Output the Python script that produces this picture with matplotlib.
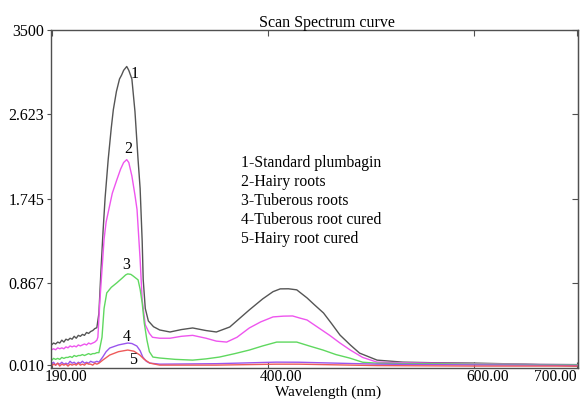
import numpy as np
import matplotlib
matplotlib.use("Agg")
import matplotlib.pyplot as plt
from matplotlib.transforms import ScaledTranslation

plt.rcParams["font.family"] = ["Liberation Serif", "DejaVu Serif"]

# noisy start of every scan, 190-236 nm in 2 nm steps
noise_x = list(range(190, 238, 2))

# 1 - standard plumbagin (dark grey)
wl1 = noise_x[:23] + [236, 238, 240, 242, 245, 248, 250, 253, 256, 258, 260, 263, 265,
                      268, 271, 274, 276, 278, 279, 281, 284, 289, 295, 305, 316, 327,
                      340, 350, 363, 382, 395, 405, 412, 420, 428, 438, 445, 454, 462,
                      470, 480, 489, 506, 531, 560, 600, 650, 700]
abs1 = [0.22, 0.24, 0.23, 0.25, 0.24, 0.27, 0.25, 0.28, 0.27, 0.29, 0.28, 0.31, 0.29,
        0.32, 0.31, 0.33, 0.32, 0.35, 0.34, 0.36, 0.37, 0.39, 0.40,
        0.55, 1.00, 1.40, 1.75, 2.15, 2.48, 2.67, 2.86, 2.99, 3.03, 3.08, 3.12, 3.08,
        2.99, 2.65, 2.15, 1.85, 1.30, 0.90, 0.60, 0.47, 0.41, 0.376, 0.355, 0.38, 0.397,
        0.37, 0.355, 0.407, 0.585, 0.70, 0.775, 0.804, 0.805, 0.794, 0.71, 0.64, 0.553,
        0.44, 0.323, 0.22, 0.135, 0.062, 0.041, 0.035, 0.031, 0.02, 0.0]

# 2 - hairy roots (magenta)
wl2 = noise_x[:23] + [235, 237, 241, 243, 245.6, 249, 253.4, 257, 260, 263, 265, 268,
                      271, 273, 276, 278, 281, 285, 288, 295, 305, 316, 327, 340, 350,
                      360, 370, 382, 393, 405, 415, 424, 431, 438, 449, 460, 470, 480,
                      492, 506, 531, 560, 600, 650, 700]
abs2 = [0.17, 0.18, 0.17, 0.19, 0.18, 0.19, 0.18, 0.20, 0.19, 0.21, 0.20, 0.21, 0.20,
        0.22, 0.21, 0.22, 0.23, 0.22, 0.24, 0.23, 0.24, 0.25, 0.27,
        0.30, 0.69, 1.32, 1.50, 1.63, 1.80, 1.94, 2.05, 2.12, 2.15, 2.12, 1.98, 1.78,
        1.63, 1.11, 0.69, 0.43, 0.34, 0.30, 0.29, 0.29, 0.31, 0.32, 0.29, 0.26, 0.25,
        0.30, 0.397, 0.46, 0.512, 0.52, 0.522, 0.50, 0.48, 0.40, 0.32, 0.24, 0.167,
        0.09, 0.041, 0.035, 0.03, 0.025, 0.02, 0.015]

# 3 - tuberous roots (green)
wl3 = noise_x + [239, 241, 243.6, 248, 253.4, 259, 262, 264, 267, 269, 274, 276, 278,
                 280, 282.6, 285, 288.4, 295, 310, 327, 340, 353, 368, 382, 395, 408.6,
                 428, 440, 453.5, 466, 479.5, 492, 506, 550, 600, 700]
abs3 = [0.06, 0.08, 0.07, 0.08, 0.07, 0.09, 0.08, 0.09, 0.09, 0.10, 0.09, 0.11, 0.10,
        0.11, 0.11, 0.12, 0.11, 0.12, 0.13, 0.12, 0.13, 0.13, 0.14, 0.14,
        0.30, 0.60, 0.762, 0.82, 0.867, 0.92, 0.95, 0.96, 0.955, 0.94, 0.898, 0.80,
        0.658, 0.45, 0.271, 0.15, 0.094, 0.084, 0.07, 0.062, 0.075, 0.094, 0.13, 0.167,
        0.21, 0.25, 0.25, 0.21, 0.167, 0.12, 0.083, 0.04, 0.03, 0.025, 0.02, 0.015]

# 4 - tuberous root cured (purple)
wl4 = noise_x + [239.7, 243, 246.5, 255, 264, 268, 272.8, 276, 278.6, 282, 285.4, 295,
                 350, 408, 430, 506, 600, 700]
abs4 = [0.02, 0.04, 0.01, 0.03, 0.02, 0.04, 0.02, 0.03, 0.02, 0.05, 0.03, 0.04, 0.02,
        0.04, 0.03, 0.05, 0.03, 0.04, 0.03, 0.05, 0.04, 0.04, 0.05, 0.04,
        0.094, 0.15, 0.188, 0.22, 0.24, 0.235, 0.209, 0.16, 0.094, 0.05, 0.031, 0.02,
        0.025, 0.041, 0.04, 0.02, 0.012, 0.008]

# 5 - hairy root cured (red)
wl5 = noise_x + [239.7, 246.5, 255, 264, 270, 275.7, 280, 285.4, 295, 350, 408, 430,
                 506, 600, 700]
abs5 = [0.00, 0.02, 0.01, 0.03, 0.00, 0.02, 0.01, 0.02, 0.00, 0.02, 0.01, 0.02, 0.01,
        0.03, 0.01, 0.02, 0.01, 0.03, 0.02, 0.02, 0.01, 0.03, 0.02, 0.03,
        0.062, 0.115, 0.15, 0.167, 0.155, 0.115, 0.07, 0.031, 0.01, 0.01, 0.02, 0.02,
        0.005, 0.0, 0.0]

series = [(wl1, abs1, "#555555"), (wl2, abs2, "#ee55ee"), (wl3, abs3, "#5fd85f"),
          (wl4, abs4, "#9a55ee"), (wl5, abs5, "#ee5a5a")]

legend_lines = ["1-Standard plumbagin", "2-Hairy roots", "3-Tuberous roots",
                "4-Tuberous root cured", "5-Hairy root cured"]

xticks = [190, 400, 600, 700]
xtick_labels = ["190.00", "400.00", "600.00", "700.00"]
yticks = [0.010, 0.867, 1.745, 2.623, 3.5]
ytick_labels = ["0.010", "0.867", "1.745", "2.623", "3500"]

fig = plt.figure(figsize=(5.84, 4.01), dpi=100)
ax = fig.add_axes([51 / 584, 1 - 368 / 401, 527 / 584, 338 / 401])

for x, y, c in series:
    ax.plot(x, y, color=c, lw=1.0)

ax.set_xlim(189.5, 701)
ax.set_ylim(-0.02, 3.5)

# curve numbers near the peaks
for txt, xx, yy in [("1", 271, 3.04), ("2", 264, 2.26), ("3", 262, 1.055),
                    ("4", 263, 0.30), ("5", 269, 0.06)]:
    ax.text(xx, yy, txt, fontsize=11.5, ha="center", va="center")

for i, line in enumerate(legend_lines):
    ax.text(373.5, 2.12 - i * 0.198, line, fontsize=11.3, ha="left", va="center")

for s in ax.spines.values():
    s.set_color("#505050")
    s.set_linewidth(1.0)

ax.set_xticks(xticks)
ax.set_xticklabels(xtick_labels, fontsize=11.2)
ax.set_yticks(yticks)
ax.set_yticklabels(ytick_labels, fontsize=11.5)
ax.tick_params(axis="x", direction="in", top=True, length=4, color="#505050", pad=0.5)
ax.tick_params(axis="y", direction="out", length=3, color="#505050", pad=2)

# right side ticks point inwards
sec = ax.secondary_yaxis("right")
sec.set_yticks(yticks)
sec.tick_params(direction="in", length=4, labelright=False, color="#505050")
sec.spines["right"].set_color("#505050")

# x labels sit a little right of their ticks, last one pulled in
offsets = [14, 13, 14, 0]
for lab, dx in zip(ax.get_xticklabels(), offsets):
    if dx == 0:
        lab.set_horizontalalignment("right")
    lab.set_transform(lab.get_transform() + ScaledTranslation(dx / 100, 0, fig.dpi_scale_trans))

fig.text(327 / 584, 1 - 27 / 401, "Scan Spectrum curve", fontsize=11.5, ha="center", va="baseline")
fig.text(328 / 584, 1 - 392.5 / 401, "Wavelength (nm)", fontsize=11, ha="center", va="center")

fig.savefig("out.png", dpi=100)
